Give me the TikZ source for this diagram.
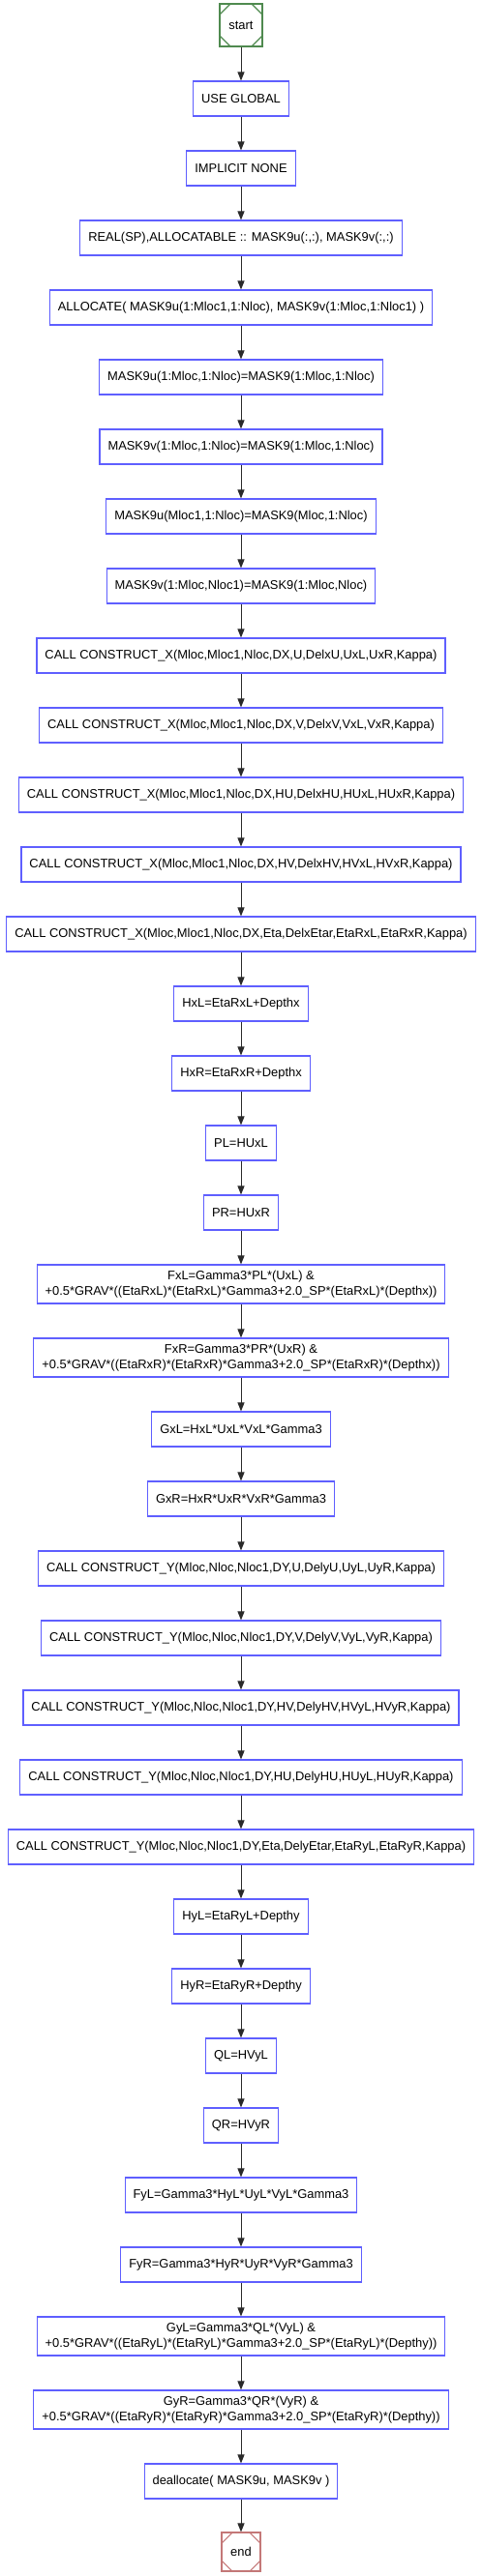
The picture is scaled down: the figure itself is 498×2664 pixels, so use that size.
\documentclass[tikz,border=0pt]{standalone}
\usepackage{fontspec}
\setmainfont{Liberation Sans}
\usetikzlibrary{arrows.meta}
\definecolor{boxblue}{HTML}{5F5FFF}
\definecolor{startgreen}{HTML}{4F8A4F}
\definecolor{stopred}{HTML}{C47878}
\definecolor{wiregray}{HTML}{2A2A2A}

\begin{document}
\begin{tikzpicture}[x=1pt,y=-1pt,font=\fontsize{12.9}{16.5}\selectfont,
  stmt/.style={draw=boxblue,line width=1.1pt,fill=white,align=center,inner xsep=8.5pt,inner ysep=3pt,minimum height=36pt},
  stmt2/.style={stmt,minimum height=40pt},
  term/.style={draw=#1,line width=1.1pt,fill=white,inner sep=0pt,
    path picture={
      \draw[#1,line width=1.1pt] ([yshift=-11pt]path picture bounding box.north west) -- ([xshift=11pt]path picture bounding box.north west);
      \draw[#1,line width=1.1pt] ([yshift=-11pt]path picture bounding box.north east) -- ([xshift=-11pt]path picture bounding box.north east);
      \draw[#1,line width=1.1pt] ([yshift=11pt]path picture bounding box.south west) -- ([xshift=11pt]path picture bounding box.south west);
      \draw[#1,line width=1.1pt] ([yshift=11pt]path picture bounding box.south east) -- ([xshift=-11pt]path picture bounding box.south east);}},
  wire/.style={-{Triangle[length=9pt,width=7pt]},line width=1pt,draw=wiregray}]
\useasboundingbox (0,0) rectangle (498,2664);
% entry and declarations
\node[term=startgreen,minimum size=44pt] (start) at (249,26) {start};
\node[stmt] (useglob) at (249,102) {USE GLOBAL};
\node[stmt] (implnone) at (249,174) {IMPLICIT NONE};
\node[stmt] (realdecl) at (249,246) {REAL(SP),ALLOCATABLE :: MASK9u(:,:), MASK9v(:,:)};
\node[stmt] (alloc) at (249,318) {ALLOCATE( MASK9u(1:Mloc1,1:Nloc), MASK9v(1:Mloc,1:Nloc1) )};
% masks
\node[stmt] (mua) at (249,390) {MASK9u(1:Mloc,1:Nloc)=MASK9(1:Mloc,1:Nloc)};
\node[stmt] (mva) at (249,462) {MASK9v(1:Mloc,1:Nloc)=MASK9(1:Mloc,1:Nloc)};
\node[stmt] (mub) at (249,534) {MASK9u(Mloc1,1:Nloc)=MASK9(Mloc,1:Nloc)};
\node[stmt] (mvb) at (249,606) {MASK9v(1:Mloc,Nloc1)=MASK9(1:Mloc,Nloc)};
% x reconstruction
\node[stmt] (cxu) at (249,678) {CALL CONSTRUCT\_X(Mloc,Mloc1,Nloc,DX,U,DelxU,UxL,UxR,Kappa)};
\node[stmt] (cxv) at (249,750) {CALL CONSTRUCT\_X(Mloc,Mloc1,Nloc,DX,V,DelxV,VxL,VxR,Kappa)};
\node[stmt] (cxhu) at (249,822) {CALL CONSTRUCT\_X(Mloc,Mloc1,Nloc,DX,HU,DelxHU,HUxL,HUxR,Kappa)};
\node[stmt] (cxhv) at (249,894) {CALL CONSTRUCT\_X(Mloc,Mloc1,Nloc,DX,HV,DelxHV,HVxL,HVxR,Kappa)};
\node[stmt] (cxeta) at (249,966) {CALL CONSTRUCT\_X(Mloc,Mloc1,Nloc,DX,Eta,DelxEtar,EtaRxL,EtaRxR,Kappa)};
\node[stmt] (hxl) at (249,1038) {HxL=EtaRxL+Depthx};
\node[stmt] (hxr) at (249,1110) {HxR=EtaRxR+Depthx};
\node[stmt] (pl) at (249,1182) {PL=HUxL};
\node[stmt] (pr) at (249,1254) {PR=HUxR};
\node[stmt2] (fxl) at (249,1328) {FxL=Gamma3*PL*(UxL) \&\\+0.5*GRAV*((EtaRxL)*(EtaRxL)*Gamma3+2.0\_SP*(EtaRxL)*(Depthx))};
\node[stmt2] (fxr) at (249,1404) {FxR=Gamma3*PR*(UxR) \&\\+0.5*GRAV*((EtaRxR)*(EtaRxR)*Gamma3+2.0\_SP*(EtaRxR)*(Depthx))};
\node[stmt] (gxl) at (249,1478) {GxL=HxL*UxL*VxL*Gamma3};
\node[stmt] (gxr) at (249,1550) {GxR=HxR*UxR*VxR*Gamma3};
% y reconstruction
\node[stmt] (cyu) at (249,1622) {CALL CONSTRUCT\_Y(Mloc,Nloc,Nloc1,DY,U,DelyU,UyL,UyR,Kappa)};
\node[stmt] (cyv) at (249,1694) {CALL CONSTRUCT\_Y(Mloc,Nloc,Nloc1,DY,V,DelyV,VyL,VyR,Kappa)};
\node[stmt] (cyhv) at (249,1766) {CALL CONSTRUCT\_Y(Mloc,Nloc,Nloc1,DY,HV,DelyHV,HVyL,HVyR,Kappa)};
\node[stmt] (cyhu) at (249,1838) {CALL CONSTRUCT\_Y(Mloc,Nloc,Nloc1,DY,HU,DelyHU,HUyL,HUyR,Kappa)};
\node[stmt] (cyeta) at (249,1910) {CALL CONSTRUCT\_Y(Mloc,Nloc,Nloc1,DY,Eta,DelyEtar,EtaRyL,EtaRyR,Kappa)};
\node[stmt] (hyl) at (249,1982) {HyL=EtaRyL+Depthy};
\node[stmt] (hyr) at (249,2054) {HyR=EtaRyR+Depthy};
\node[stmt] (ql) at (249,2126) {QL=HVyL};
\node[stmt] (qr) at (249,2198) {QR=HVyR};
\node[stmt] (fyl) at (249,2270) {FyL=Gamma3*HyL*UyL*VyL*Gamma3};
\node[stmt] (fyr) at (249,2342) {FyR=Gamma3*HyR*UyR*VyR*Gamma3};
\node[stmt2] (gyl) at (249,2416) {GyL=Gamma3*QL*(VyL) \&\\+0.5*GRAV*((EtaRyL)*(EtaRyL)*Gamma3+2.0\_SP*(EtaRyL)*(Depthy))};
\node[stmt2] (gyr) at (249,2492) {GyR=Gamma3*QR*(VyR) \&\\+0.5*GRAV*((EtaRyR)*(EtaRyR)*Gamma3+2.0\_SP*(EtaRyR)*(Depthy))};
% cleanup and exit
\node[stmt] (dealloc) at (249,2566) {deallocate( MASK9u, MASK9v )};
\node[term=stopred,minimum size=40pt] (stop) at (249,2639) {end};
% connectors
\draw[wire] (start.south) -- (useglob.north);
\draw[wire] (useglob.south) -- (implnone.north);
\draw[wire] (implnone.south) -- (realdecl.north);
\draw[wire] (realdecl.south) -- (alloc.north);
\draw[wire] (alloc.south) -- (mua.north);
\draw[wire] (mua.south) -- (mva.north);
\draw[wire] (mva.south) -- (mub.north);
\draw[wire] (mub.south) -- (mvb.north);
\draw[wire] (mvb.south) -- (cxu.north);
\draw[wire] (cxu.south) -- (cxv.north);
\draw[wire] (cxv.south) -- (cxhu.north);
\draw[wire] (cxhu.south) -- (cxhv.north);
\draw[wire] (cxhv.south) -- (cxeta.north);
\draw[wire] (cxeta.south) -- (hxl.north);
\draw[wire] (hxl.south) -- (hxr.north);
\draw[wire] (hxr.south) -- (pl.north);
\draw[wire] (pl.south) -- (pr.north);
\draw[wire] (pr.south) -- (fxl.north);
\draw[wire] (fxl.south) -- (fxr.north);
\draw[wire] (fxr.south) -- (gxl.north);
\draw[wire] (gxl.south) -- (gxr.north);
\draw[wire] (gxr.south) -- (cyu.north);
\draw[wire] (cyu.south) -- (cyv.north);
\draw[wire] (cyv.south) -- (cyhv.north);
\draw[wire] (cyhv.south) -- (cyhu.north);
\draw[wire] (cyhu.south) -- (cyeta.north);
\draw[wire] (cyeta.south) -- (hyl.north);
\draw[wire] (hyl.south) -- (hyr.north);
\draw[wire] (hyr.south) -- (ql.north);
\draw[wire] (ql.south) -- (qr.north);
\draw[wire] (qr.south) -- (fyl.north);
\draw[wire] (fyl.south) -- (fyr.north);
\draw[wire] (fyr.south) -- (gyl.north);
\draw[wire] (gyl.south) -- (gyr.north);
\draw[wire] (gyr.south) -- (dealloc.north);
\draw[wire] (dealloc.south) -- (stop.north);
\end{tikzpicture}
\end{document}
